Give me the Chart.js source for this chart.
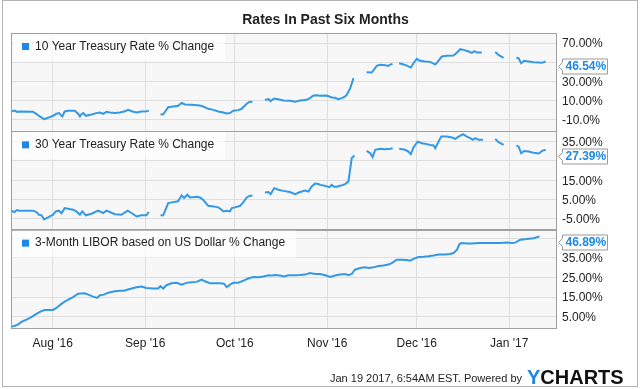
<!DOCTYPE html>
<html>
<head>
<meta charset="utf-8">
<script src="https://cdn.jsdelivr.net/npm/chart.js@4.4.1/dist/chart.umd.min.js"></script>
<style>
  html, body { margin: 0; padding: 0; background: #fff; }
  #wrap { position: relative; width: 640px; height: 389px; }
</style>
</head>
<body>
<div id="wrap"><canvas id="chart" width="640" height="389"></canvas></div>
<script>
// x values are days counted from Jul 18 2016
const monthDays = [14, 45, 75, 106, 136, 167];
const monthLabels = ["Aug '16", "Sep '16", "Oct '16", "Nov '16", "Dec '16", "Jan '17"];

const seriesNames = [
  "10 Year Treasury Rate % Change",
  "30 Year Treasury Rate % Change",
  "3-Month LIBOR based on US Dollar % Change"
];
const latestValues = [46.54, 27.39, 46.89];

// 10 year treasury, null = no data (gap in line)
const tenDays = [
  0, 1.2, 2, 2.9, 7.4, 8.5, 9.6, 11.1, 12.4, 14.1, 15.2, 16.1, 16.7, 17.2, 18, 19.1, 21.4, 22.5, 23.1, 23.6, 24.2, 25.1, 27, 28.6, 29.8, 30.9, 32, 33.1, 34.8, 36.5, 38.2, 39.3, 40.4, 42.1, 43.7, 45.4, 46.2,
  48,
  50.1, 51, 52.7, 54.4, 56, 57.2, 58.3, 60.5, 63.3, 64.4, 66.1, 67.8, 69.5, 71.2, 72.3, 73.4, 74.5, 76.2, 77.3, 79, 80.1, 80.9,
  83,
  85.1, 86.3, 87, 88.2, 89.6, 91.3, 93.5, 95.2, 96.9, 99.1, 100.2, 101.4, 102.5, 103.6, 105.8, 107.5, 108.6, 109.7, 110.9, 112, 112.5, 113.7, 114.8,
  117,
  119.2, 120.9, 122.6, 123.7, 125.4, 126.5, 127.1, 127.9,
  129,
  130.1, 131.6, 132.9, 134, 134.9, 136, 137.1, 138.8, 140.5, 142.2, 143.3, 144.4, 146.1, 148.3, 149.5, 150.6, 151.7, 153.4, 154.5, 155.3, 156.2, 157.8,
  160,
  162.3, 163.4, 165.1,
  167,
  169.4, 170.1, 171, 172, 173.5, 175.2, 176.9, 178, 179.2
];
const tenRate = [
  -1.3, -0.3, -1.7, -1.3, -1.7, -3.7, -6.5, -9.3, -7.9, -5.8, -3.7, -3.0, -5.1, -6.5, -1.3, -0.6, -0.6, -3.7, -6.5, -4.1, -3.0, -5.8, -4.4, -3.0, -2.4, -3.7, -1.7, -2.4, -3.0, -2.4, -1.0, 0.4, -1.0, -2.4, -1.3, -1.0, -0.6,
  null,
  -4.1, -4.4, 3.2, 3.9, 4.6, 7.7, 6.0, 5.6, 4.9, 3.9, 1.5, 0.4, -1.3, -2.4, -3.4, -3.0, -0.6, 0.1, 1.5, 6.7, 9.1, 8.4,
  null,
  10.8, 11.5, 9.5, 12.2, 11.5, 10.1, 9.8, 8.8, 10.1, 10.8, 12.6, 15.4, 15.7, 15.0, 15.4, 13.3, 12.9, 11.5, 12.6, 14.3, 16.0, 23.0, 33.4,
  null,
  39.7, 39.3, 46.2, 47.3, 46.9, 46.2, 47.6, 48.3,
  null,
  49.0, 47.6, 46.2, 44.5, 49.0, 53.5, 51.5, 50.8, 50.4, 47.6, 51.8, 56.0, 56.7, 57.0, 60.1, 63.6, 62.9, 61.2, 59.8, 61.5, 60.1, 60.1,
  null,
  60.8, 57.7, 54.6,
  null,
  54.6, 54.2, 49.0, 51.5, 50.8, 50.1, 49.7, 49.4, 50.8
];

// 30 year treasury
const thirtyDays = [
  0, 1.2, 2, 2.9, 7.4, 8.5, 9.4, 10.2, 11.1, 12.4, 14.1, 15, 16.1, 16.9, 18, 19.1, 20.8, 21.9, 23.1, 23.9, 25.1, 27, 29.2, 30.9, 32, 33.1, 34.8, 37, 39.1, 40.4, 42.1, 43.7, 45.4, 46.2,
  48,
  50.1, 51, 52.7, 54.4, 56, 57.2, 58, 59.1, 60, 62.2, 63.3, 64.4, 66.1, 67.8, 69.5, 70.6, 71.2, 72.3, 73.4, 74, 75.1, 76.8, 77.9, 79, 80.1, 80.9,
  83,
  85.1, 86.3, 87, 88.2, 89.6, 91.3, 93.5, 95.2, 96.9, 98.6, 99.7, 100.8, 101.9, 103, 103.6, 104.7, 105.8, 106.7, 107.5, 108.3, 109.2, 110.3, 112, 113.1, 114.2, 115.1,
  117,
  119.2, 120.4, 121.2, 122.1, 123.7, 125.4, 127.1, 127.9,
  129,
  130.1, 132.1, 133.2, 134, 134.9, 136.3, 137.7, 139.4, 140.5, 141.6, 142.2, 143.3, 144.2, 146.1, 147.8, 148.9, 150, 151.5, 152.8, 153.9, 154.8, 155.6, 156.7, 158.2,
  160,
  162.3, 163.4, 165.1,
  167,
  169.4, 170.1, 171, 172, 173.5, 175.2, 176.9, 178, 179.2
];
const thirtyRate = [
  -0.7, -1.4, -0.4, -0.7, -0.7, -1.4, -2.8, -3.1, -5.2, -4.2, -2.8, -1.1, -0.7, -2.1, 0.6, 0.3, -0.2, -1.1, -2.8, -1.1, -3.1, -2.3, -0.7, -1.9, -0.7, -1.4, -2.5, -2.8, -0.7, -1.9, -3.7, -3.1, -3.1, -1.4,
  null,
  -3.1, -3.1, 3.2, 3.7, 4.1, 7.2, 5.8, 7.5, 6.1, 6.5, 6.1, 4.9, 1.8, 1.5, 1.0, -0.2, -1.1, -0.7, -1.1, 0.6, 1.0, 1.8, 3.7, 6.1, 7.0, 7.0,
  null,
  8.7, 8.9, 7.8, 10.9, 10.1, 9.5, 8.9, 7.8, 8.9, 9.7, 9.2, 11.8, 13.3, 13.0, 12.6, 12.3, 11.8, 11.4, 12.6, 11.6, 11.6, 12.1, 13.0, 14.4, 26.4, 27.7,
  null,
  30.1, 28.9, 26.9, 30.7, 31.2, 31.0, 31.2, 31.5,
  null,
  31.2, 30.7, 29.8, 28.4, 31.9, 34.9, 34.1, 33.6, 33.2, 32.9, 31.5, 34.9, 37.5, 37.5, 37.0, 36.3, 37.5, 38.7, 37.5, 36.7, 35.8, 36.7, 35.8, 35.8,
  null,
  36.3, 34.6, 33.2,
  null,
  32.9, 32.4, 28.9, 30.1, 29.8, 29.1, 28.8, 30.1, 30.7
];

// 3-month LIBOR
const liborDays = [
  0, 1.2, 2.4, 3.5, 5.2, 6.8, 8.5, 10.2, 11.3, 14.1,
  15.2, 16.9, 18.6, 20.8, 22.5, 24.7, 25.9, 27.5, 28.9, 29.8,
  31.1, 32.6, 34.8, 36.5, 37.8, 39.8, 42.1, 43.7, 45.4, 47.7,
  49.3, 50.1, 51, 52.1, 53.8, 55.5, 57.2, 58.8, 60.5, 62.2,
  63.9, 65, 66.7, 70, 71.4, 72.3, 73.4, 74.5, 76.2, 77.9,
  79.5, 81.2, 82.9, 84.6, 86.3, 87.4, 88.5, 90.2, 91.3, 93,
  95.2, 96.9, 98.6, 100.2, 101.9, 103.6, 105.3, 107, 108.6, 110.3,
  112, 113.1, 114.2, 115.3, 117, 118.7, 119.8, 121.5, 123.2, 124.8,
  126.5, 127.6, 129.3, 131, 132.7, 133.8, 134.9, 136.6, 138.3, 139.9,
  141.6, 143.3, 145.5, 147.2, 148.3, 149.5, 150.3, 151.1, 152.8, 154.5,
  156.7, 159.5, 161.8, 164, 166.2, 167.9, 169, 170.7, 172.9, 175.2,
  177.1
];
const liborRate = [
  0, 0.3, 1.1, 2.4, 3.6, 4.8, 6.5, 7.9, 8.5, 8.5,
  9.5, 11.6, 13.3, 15.0, 16.8, 17.0, 16.3, 15.3, 14.6, 16.0,
  16.3, 17.3, 18.0, 18.3, 18.3, 19.2, 20.1, 20.4, 19.7, 19.4,
  19.4, 20.6, 19.4, 21.1, 22.1, 22.3, 21.4, 22.3, 22.6, 22.8,
  24.0, 23.1, 22.1, 22.1, 21.9, 20.1, 21.4, 22.3, 22.4, 23.4,
  24.5, 25.3, 25.1, 25.5, 26.2, 26.0, 26.3, 26.0, 25.6, 26.2,
  26.2, 26.3, 26.5, 27.3, 26.8, 26.8, 26.2, 25.3, 26.0, 26.5,
  26.8, 26.2, 26.8, 29.0, 29.9, 30.2, 29.9, 30.2, 30.9, 31.2,
  31.6, 32.4, 34.1, 34.1, 33.9, 33.6, 34.5, 35.5, 35.6, 35.8,
  36.2, 36.7, 36.8, 37.0, 37.5, 39.2, 42.1, 42.6, 42.4, 42.3,
  42.6, 42.6, 42.6, 42.6, 42.8, 42.6, 42.8, 44.3, 44.6, 45.0,
  46.0
];

// y tick values per panel; labels hidden behind the value badge are left blank
const ticksTen = [-10, 10, 30, 50, 70];
const labelsTen = ['-10.0%', '10.00%', '30.00%', '', '70.00%'];
const ticksThirty = [-5, 5, 15, 25, 35];
const labelsThirty = ['-5.00%', '5.00%', '15.00%', '', '35.00%'];
const ticksLibor = [5, 15, 25, 35, 45];
const labelsLibor = ['5.00%', '15.00%', '25.00%', '35.00%', ''];

const FONT = '"Liberation Sans", Arial, sans-serif';
const LINE = '#3399e6';
const BLUE = '#1e88e5';
Chart.defaults.font.family = FONT;

const panelTicks = { y1: [ticksTen, labelsTen], y2: [ticksThirty, labelsThirty], y3: [ticksLibor, labelsLibor] };

function pts(days, vals) {
  return days.map((d, i) => ({ x: d, y: vals[i] }));
}

function yAxis(min, max, values) {
  return {
    type: 'linear',
    position: 'right',
    stack: 'panels',
    stackWeight: 1,
    min: min,
    max: max,
    grid: { color: '#dedede', drawTicks: false },
    border: { display: false },
    afterBuildTicks: s => { s.ticks = values.map(v => ({ value: v })); },
    afterFit: s => { s.width = 83; },
    // labels are written by the plugin below at the scale's own tick pixels
    ticks: { display: false }
  };
}

const panelPlugin = {
  id: 'panels',
  beforeDraw(chart) {
    const ctx = chart.ctx, ca = chart.chartArea;
    ctx.save();
    ctx.fillStyle = '#f7f7f7';
    ctx.fillRect(ca.left, ca.top, ca.width, ca.height);
    ctx.restore();
  },
  afterDatasetsDraw(chart) {
    const ctx = chart.ctx, ca = chart.chartArea;
    ctx.save();
    ['y1', 'y2', 'y3'].forEach((id, i) => {
      const s = chart.scales[id];
      ctx.strokeStyle = '#a0a0a0';
      ctx.lineWidth = 1;
      ctx.strokeRect(ca.left + 0.5, Math.round(s.top) + 0.5, ca.width - 1, Math.round(s.bottom - s.top));

      // legend box
      ctx.font = '12px ' + FONT;
      const w = ctx.measureText(seriesNames[i]).width;
      ctx.fillStyle = 'rgba(255,255,255,0.7)';
      ctx.fillRect(ca.left + 2, s.top + 1, w + 33, 27);
      ctx.fillStyle = BLUE;
      ctx.fillRect(ca.left + 11, s.top + 10, 7, 7);
      ctx.fillStyle = '#222';
      ctx.textAlign = 'left';
      ctx.textBaseline = 'middle';
      ctx.fillText(seriesNames[i], ca.left + 24, s.top + 13.5);
    });
    ctx.restore();
  },
  afterDraw(chart) {
    const ctx = chart.ctx, ca = chart.chartArea;
    ctx.save();
    ['y1', 'y2', 'y3'].forEach((id, i) => {
      const s = chart.scales[id];
      // tick labels
      const [vals, labels] = panelTicks[id];
      ctx.font = '12px ' + FONT;
      ctx.fillStyle = '#222';
      ctx.textAlign = 'left';
      ctx.textBaseline = 'middle';
      vals.forEach((v, k) => {
        if (labels[k]) ctx.fillText(labels[k], ca.right + 5, s.getPixelForValue(v) + 1);
      });

      // value badge
      const y = Math.round(Math.max(s.getPixelForValue(latestValues[i]), s.top + 12)) + 0.5;
      const x0 = ca.right + 1.5, bx = ca.right + 5.5, bw = 45, hh = 7.5;
      ctx.beginPath();
      ctx.moveTo(x0, y);
      ctx.lineTo(bx, y - 4);
      ctx.lineTo(bx, y - hh);
      ctx.lineTo(bx + bw, y - hh);
      ctx.lineTo(bx + bw, y + hh);
      ctx.lineTo(bx, y + hh);
      ctx.lineTo(bx, y + 4);
      ctx.closePath();
      ctx.fillStyle = '#fff';
      ctx.fill();
      ctx.strokeStyle = '#999';
      ctx.lineWidth = 1;
      ctx.stroke();
      ctx.font = 'bold 12px ' + FONT;
      ctx.fillStyle = BLUE;
      ctx.fillText(latestValues[i].toFixed(2) + '%', bx + 3, y + 0.5);
    });

    // footer
    ctx.font = '11px ' + FONT;
    ctx.fillStyle = '#222';
    ctx.textAlign = 'right';
    ctx.textBaseline = 'alphabetic';
    ctx.fillText('Jan 19 2017, 6:54AM EST. Powered by', 522, 382);
    ctx.textAlign = 'left';
    ctx.font = 'bold 20px ' + FONT;
    ctx.fillStyle = BLUE;
    ctx.fillText('Y', 527, 384);
    const yw = ctx.measureText('Y').width;
    ctx.fillStyle = '#111';
    ctx.fillText('CHARTS', 527 + yw, 384);

    // outer frame
    ctx.strokeStyle = '#b4b4b4';
    ctx.strokeRect(2.5, 0.5, 635, 386);
    ctx.restore();
  }
};

new Chart(document.getElementById('chart'), {
  type: 'line',
  data: {
    datasets: [
      { data: pts(tenDays, tenRate), yAxisID: 'y1' },
      { data: pts(thirtyDays, thirtyRate), yAxisID: 'y2' },
      { data: pts(liborDays, liborRate), yAxisID: 'y3' }
    ].map(d => Object.assign(d, {
      borderColor: LINE, borderWidth: 2, pointRadius: 0, tension: 0, spanGaps: false, fill: false
    }))
  },
  options: {
    responsive: false,
    animation: false,
    events: [],
    layout: { padding: { left: 11, right: 0, top: 0, bottom: 31 } },
    plugins: {
      legend: { display: false },
      tooltip: { enabled: false },
      title: {
        display: true,
        text: 'Rates In Past Six Months',
        color: '#222',
        font: { size: 14, weight: 'bold' },
        padding: { top: 12, bottom: 4.2 }
      }
    },
    scales: {
      x: {
        type: 'linear',
        min: 0,
        max: 183,
        grid: { color: '#dedede', drawTicks: false },
        border: { display: false },
        afterBuildTicks: s => { s.ticks = monthDays.map(v => ({ value: v })); },
        afterFit: s => { s.height = 30; },
        ticks: {
          padding: 8,
          color: '#222',
          font: { size: 12 },
          maxRotation: 0,
          autoSkip: false,
          callback: v => monthLabels[monthDays.indexOf(v)]
        }
      },
      y1: yAxis(-22, 80.5, ticksTen),
      y2: yAxis(-10.5, 40.2, ticksThirty),
      y3: yAxis(-0.7, 49.4, ticksLibor)
    }
  },
  plugins: [panelPlugin]
});
</script>
</body>
</html>
